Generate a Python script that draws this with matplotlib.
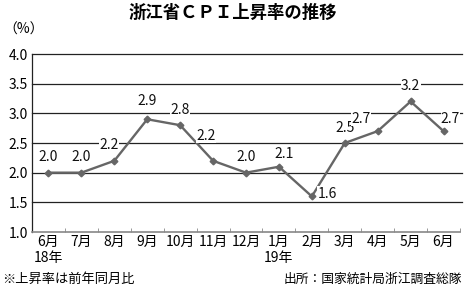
import matplotlib
matplotlib.use("Agg")
import matplotlib.pyplot as plt
from matplotlib.ticker import FixedLocator

plt.rcParams['font.family'] = ['Noto Sans CJK JP', 'DejaVu Sans']

months = ['6月', '7月', '8月', '9月', '10月', '11月', '12月', '1月', '2月', '3月', '4月', '5月', '6月']
years = {0: '18年', 7: '19年'}
values = [2.0, 2.0, 2.2, 2.9, 2.8, 2.2, 2.0, 2.1, 1.6, 2.5, 2.7, 3.2, 2.7]
yticks = [1.0, 1.5, 2.0, 2.5, 3.0, 3.5, 4.0]
# label offsets in points (dx, dy)
offsets = [(0, 6), (0, 6), (-4, 6), (0, 8), (0, 6), (-5, 13), (0, 6), (4, 4),
           (11, -3), (0, 6), (-12, 4), (0, 6), (5, 4)]

fig = plt.figure(figsize=(4.65, 2.88), dpi=100)
ax = fig.add_axes([32/465, 1-232/288, 428/465, 178/288])

x = list(range(len(values)))
ax.plot(x, values, color='#666666', lw=1.7, marker='D', ms=3.4, zorder=3)
for i, v in enumerate(values):
    dx, dy = offsets[i]
    ax.annotate(f'{v:.1f}', (i, v), xytext=(dx, dy), textcoords='offset points',
                ha='center', va='bottom', fontsize=10, color='#111111', zorder=4,
                bbox=dict(boxstyle='square,pad=0.02', fc='white', ec='none'))

ax.set_xlim(-0.5, len(values) - 0.5)
ax.set_ylim(1.0, 4.0)
ax.set_yticks(yticks)
ax.set_yticklabels([f'{t:.1f}' for t in yticks], fontsize=10)
for t in yticks[1:]:
    ax.axhline(t, color='#222222', lw=0.9, zorder=1, clip_on=False, xmax=1.005)
ax.tick_params(axis='y', length=0, pad=3)
ax.set_xticks(x)
ax.set_xticklabels(months, fontsize=10)
ax.tick_params(axis='x', length=0, pad=2)
ax.xaxis.set_minor_locator(FixedLocator([i + 0.5 for i in range(-1, len(values))]))
ax.tick_params(axis='x', which='minor', length=3, direction='in', color='#888888')
for s in ['top', 'right']:
    ax.spines[s].set_visible(False)
ax.spines['left'].set_color('#222222')
ax.spines['left'].set_linewidth(0.9)
ax.spines['bottom'].set_color('#888888')
ax.spines['bottom'].set_linewidth(1.2)

for i, y in years.items():
    ax.text(i, -0.105, y, transform=ax.get_xaxis_transform(), ha='center', va='top', fontsize=10)

fig.text(0.5, 1-13/288, '浙江省ＣＰＩ上昇率の推移', ha='center', va='center', fontsize=12.5, fontweight='bold')
fig.text(3/465, 1-30/288, '（%）', ha='left', va='center', fontsize=10)
fig.text(2/465, 1-279/288, '※上昇率は前年同月比', ha='left', va='center', fontsize=9.5)
fig.text(462/465, 1-279/288, '出所：国家統計局浙江調査総隊', ha='right', va='center', fontsize=9.2)

fig.savefig('out.png', dpi=100)
